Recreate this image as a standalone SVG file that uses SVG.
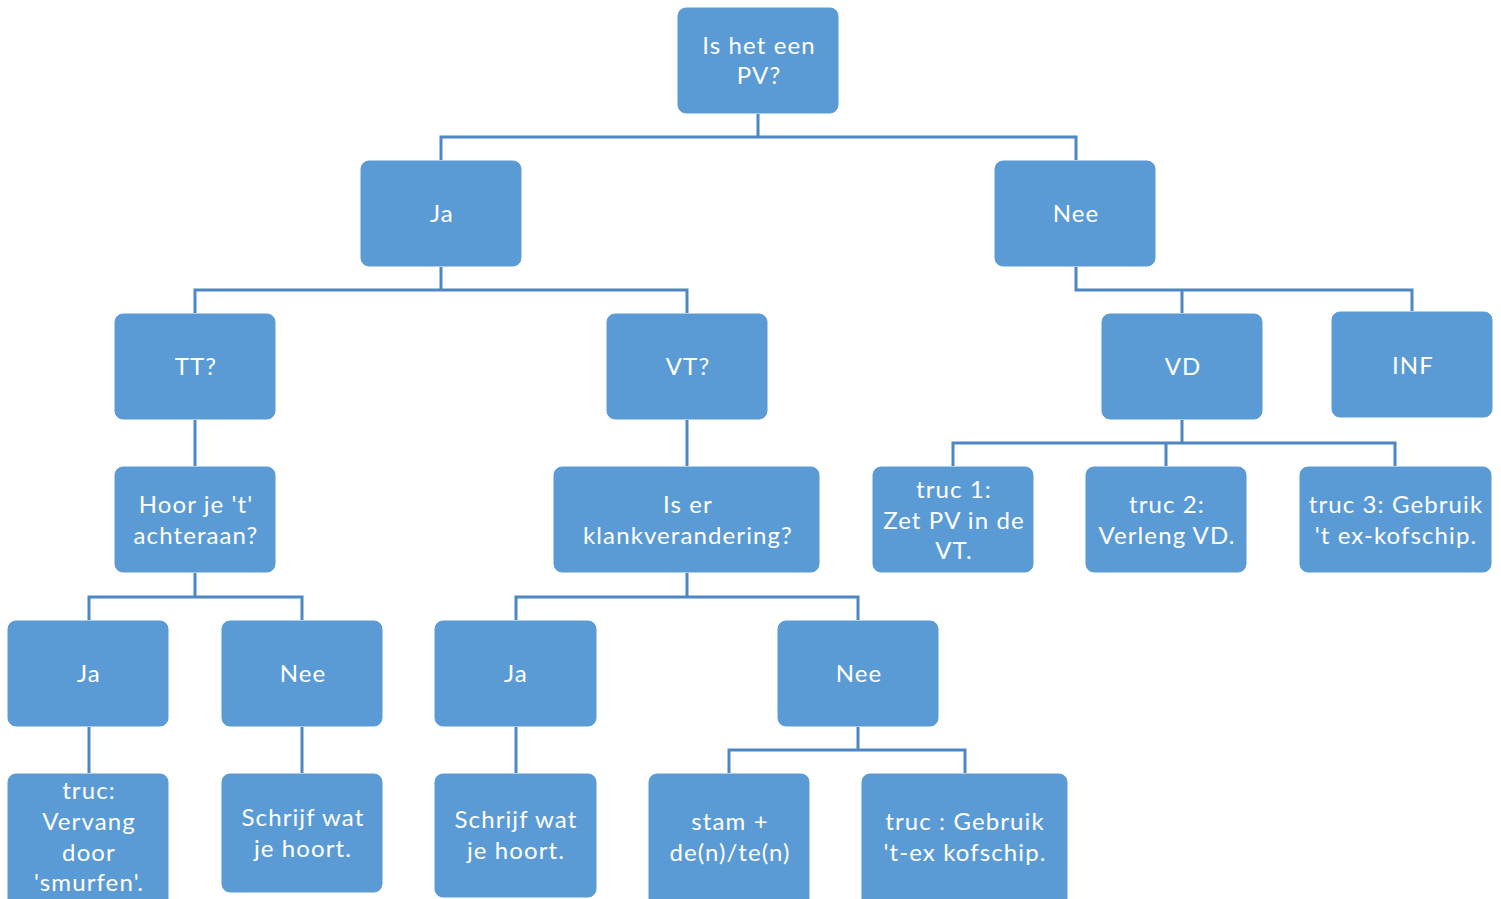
<svg xmlns="http://www.w3.org/2000/svg" width="1501" height="899" viewBox="0 0 1501 899">
<style>
.b{fill:#5B9BD5;stroke:#5B9BD5;stroke-width:1}
.t{fill:#FFFFFF;font-family:Lato,"Liberation Sans",sans-serif;font-size:24px;letter-spacing:1.1px;text-anchor:middle}
.c{fill:none;stroke:#4F86C4;stroke-width:3}
</style>
<rect width="1501" height="899" fill="#FFFFFF"/>
<g id="connectors" class="c">
<path d="M758,114V137M441,160V137H1076V160"/>
<path d="M441,267V290M195,313V290H687V313"/>
<path d="M1076,267V290H1412V311M1182,290V313"/>
<path d="M195,420V466"/>
<path d="M687,420V466"/>
<path d="M1182,420V443M953,466V443H1395V466M1166,443V466"/>
<path d="M195,573V597M89,620V597H302V620"/>
<path d="M687,573V597M516,620V597H858V620"/>
<path d="M89,727V773"/>
<path d="M302,727V773"/>
<path d="M516,727V773"/>
<path d="M858,727V750M729,773V750H965V773"/>
</g>
<g id="n-root"><rect class="b" x="678" y="8" width="160" height="105" rx="8"/><text class="t" x="759" y="54">Is het een</text><text class="t" x="759" y="84">PV?</text></g>
<g id="n-ja"><rect class="b" x="361" y="161" width="160" height="105" rx="8"/><text class="t" x="442" y="222">Ja</text></g>
<g id="n-nee"><rect class="b" x="995" y="161" width="160" height="105" rx="8"/><text class="t" x="1076" y="222">Nee</text></g>
<g id="n-tt"><rect class="b" x="115" y="314" width="160" height="105" rx="8"/><text class="t" x="196" y="375">TT?</text></g>
<g id="n-vt"><rect class="b" x="607" y="314" width="160" height="105" rx="8"/><text class="t" x="688" y="375">VT?</text></g>
<g id="n-vd"><rect class="b" x="1102" y="314" width="160" height="105" rx="8"/><text class="t" x="1183" y="375">VD</text></g>
<g id="n-inf"><rect class="b" x="1332" y="312" width="160" height="105" rx="8"/><text class="t" x="1413" y="374">INF</text></g>
<g id="n-hoor"><rect class="b" x="115" y="467" width="160" height="105" rx="8"/><text class="t" x="196" y="513">Hoor je 't'</text><text class="t" x="196" y="544">achteraan?</text></g>
<g id="n-klank"><rect class="b" x="554" y="467" width="265" height="105" rx="8"/><text class="t" x="688" y="513">Is er</text><text class="t" x="688" y="544">klankverandering?</text></g>
<g id="n-truc1"><rect class="b" x="873" y="467" width="160" height="105" rx="8"/><text class="t" x="954" y="498">truc 1:</text><text class="t" x="954" y="529">Zet PV in de</text><text class="t" x="954" y="559">VT.</text></g>
<g id="n-truc2"><rect class="b" x="1086" y="467" width="160" height="105" rx="8"/><text class="t" x="1167" y="513">truc 2:</text><text class="t" x="1167" y="544">Verleng VD.</text></g>
<g id="n-truc3"><rect class="b" x="1300" y="467" width="191" height="105" rx="8"/><text class="t" x="1396" y="513">truc 3: Gebruik</text><text class="t" x="1396" y="544">'t ex-kofschip.</text></g>
<g id="n-ja2"><rect class="b" x="8" y="621" width="160" height="105" rx="8"/><text class="t" x="89" y="682">Ja</text></g>
<g id="n-nee2"><rect class="b" x="222" y="621" width="160" height="105" rx="8"/><text class="t" x="303" y="682">Nee</text></g>
<g id="n-ja3"><rect class="b" x="435" y="621" width="161" height="105" rx="8"/><text class="t" x="516" y="682">Ja</text></g>
<g id="n-nee3"><rect class="b" x="778" y="621" width="160" height="105" rx="8"/><text class="t" x="859" y="682">Nee</text></g>
<g id="n-smurf"><rect class="b" x="8" y="774" width="160" height="135" rx="8"/><text class="t" x="89" y="799">truc:</text><text class="t" x="89" y="830">Vervang</text><text class="t" x="89" y="861">door</text><text class="t" x="89" y="891">'smurfen'.</text></g>
<g id="n-schrijf1"><rect class="b" x="222" y="774" width="160" height="118" rx="8"/><text class="t" x="303" y="826">Schrijf wat</text><text class="t" x="303" y="857">je hoort.</text></g>
<g id="n-schrijf2"><rect class="b" x="435" y="774" width="161" height="123" rx="8"/><text class="t" x="516" y="828">Schrijf wat</text><text class="t" x="516" y="859">je hoort.</text></g>
<g id="n-stam"><rect class="b" x="649" y="774" width="160" height="135" rx="8"/><text class="t" x="730" y="830">stam +</text><text class="t" x="730" y="861">de(n)/te(n)</text></g>
<g id="n-kof"><rect class="b" x="862" y="774" width="205" height="135" rx="8"/><text class="t" x="965" y="830">truc : Gebruik</text><text class="t" x="965" y="861">'t-ex kofschip.</text></g>
</svg>
